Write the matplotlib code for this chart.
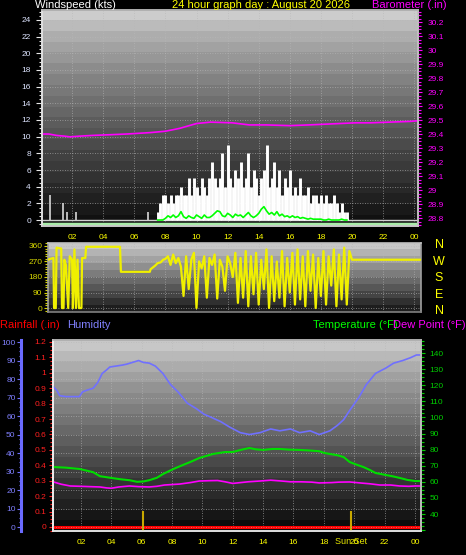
import numpy as np
import matplotlib
matplotlib.use('Agg')
import matplotlib.pyplot as plt
import matplotlib.transforms as mtransforms
from matplotlib.ticker import MultipleLocator, FuncFormatter

plt.rcParams['font.family'] = ['Liberation Sans', 'DejaVu Sans']

# ---------------- data (hours since midnight) ----------------
baro_hours = [0.06, 0.5, 1.0, 1.5, 1.86, 2.5, 3.3, 4.44, 5.5, 7.0, 8.0, 8.9, 10.0, 10.9,
              12.3, 13.4, 14.5, 16.0, 17.2, 18.2, 19.2, 20.2, 21.2, 22.4, 23.7, 24.3]
baro_vals = [29.40, 29.40, 29.39, 29.385, 29.38, 29.385, 29.39, 29.395, 29.40, 29.41, 29.42,
             29.44, 29.475, 29.485, 29.48, 29.465, 29.465, 29.46, 29.465, 29.47, 29.475,
             29.48, 29.48, 29.485, 29.49, 29.495]

# isolated gusts overnight
spike_hours = [0.58, 1.41, 1.67, 2.25, 6.9]
spike_vals = [3, 2, 1, 1, 1]

# gusts / average wind every 10 minutes from 07:30
gust_vals = [1, 2, 3,
             3, 2, 3, 2, 3, 3,
             4, 3, 3, 5, 3, 5,
             4, 3, 5, 4, 3, 5,
             7, 5, 4, 5, 8, 4,
             9, 5, 4, 6, 5, 7,
             4, 5, 8, 4, 6, 5,
             3, 5, 6, 9, 4, 5,
             7, 4, 6, 3, 5, 4,
             6, 3, 4, 3, 5, 3,
             3, 4, 2, 3, 3, 2,
             3, 2, 3, 2, 2, 3,
             2, 1, 2, 1, 1]
avg_vals = [0, 0, 0,
            0.2, 0.5, 0.3, 0.6, 0.3, 0.5,
            1.0, 0.4, 0.2, 0.5, 0.3, 0.2,
            0.6, 0.4, 0.2, 0.6, 0.3, 0.3,
            0.5, 0.8, 1.1, 1.0, 0.5, 0.4,
            0.8, 0.6, 0.3, 0.7, 0.5, 0.6,
            0.3, 0.6, 0.9, 0.5, 0.3, 0.5,
            0.8, 1.3, 1.6, 1.1, 0.7, 0.9,
            0.6, 1.0, 0.5, 0.7, 0.4, 0.5,
            0.3, 0.5, 0.3, 0.4, 0.2, 0.3,
            0.2, 0.1, 0.2, 0.1, 0.1, 0.1,
            0.1, 0, 0, 0.1, 0, 0,
            0, 0, 0.1, 0, 0]
wind_hours = 7.5 + np.arange(len(gust_vals)) / 6.0

# wind direction
dir_hours_early = [0.45, 0.6, 0.8, 0.84, 0.95, 1.0, 1.3, 1.35, 1.45, 1.5, 1.6, 1.75, 1.85,
                   2.0, 2.05, 2.15, 2.25, 2.35, 2.44, 2.6, 2.64, 2.85, 2.9, 5.08, 5.14,
                   7.0, 7.05, 7.33, 7.5, 7.7, 7.85]
dir_vals_early = [280, 285, 290, 0, 0, 350, 345, 0, 0, 280, 250, 0, 300,
                  280, 0, 340, 0, 280, 0, 0, 290, 290, 355, 355, 210,
                  210, 225, 245, 260, 265, 280]
dir_vals_day = [285, 300, 250, 310, 260, 290,
                240, 70, 300, 110, 280, 320,
                0, 270, 230, 300, 60, 290,
                250, 310, 55, 280, 240, 100,
                300, 260, 180, 320, 30, 290,
                60, 330, 10, 300, 80, 320,
                20, 280, 110, 340, 0, 300,
                40, 270, 60, 330, 10, 290,
                90, 320, 20, 340, 50, 300,
                10, 330, 100, 310, 0, 290,
                70, 330, 20, 300, 130, 340,
                10, 310, 50, 350, 20, 330,
                280]
dir_hours_day = 8.0 + np.arange(len(dir_vals_day)) / 6.0
dir_hours_late = [24.5]
dir_vals_late = [280]

# humidity (%), temperature and dew point (F), rain (in)
hum_hours = [0.16, 0.4, 0.6, 1.0, 1.5, 1.9, 2.1, 2.4, 2.8, 3.1, 3.4, 3.7, 3.9, 4.3, 4.7,
             5.0, 5.4, 5.8, 6.1, 6.5, 6.9, 7.4, 7.9, 8.4, 8.7, 9.0, 9.6, 10.1, 10.5,
             11.2, 11.8, 12.5, 13.1, 13.8, 14.5, 15.1, 15.8, 16.4, 17.1, 17.7, 18.4,
             18.9, 19.3, 19.7, 20.3, 20.8, 21.4, 22.1, 22.6, 23.2, 23.7, 24.1, 24.4]
hum_vals = [76, 74, 71, 70.5, 70.5, 70.5, 73, 74, 75, 78, 83, 85, 86.5, 87, 87.5,
            88, 89, 90, 89, 88.6, 87, 83, 77, 73, 70, 67, 64, 61, 59.6,
            57, 54, 51, 50, 51, 53, 52, 53, 51, 52, 50, 52,
            55, 58, 63, 70, 77, 83, 86, 88.6, 90, 91.5, 93, 93]
temp_hours = [0.16, 1.0, 1.9, 2.8, 3.25, 4.0, 4.6, 5.2, 5.7, 6.1, 6.5, 7.0, 7.4, 8.1, 8.6,
              9.2, 9.8, 10.7, 11.5, 12.0, 12.6, 13.1, 13.5, 14.0, 14.6, 15.1, 15.7, 16.4,
              17.0, 17.7, 18.0, 18.4, 18.9, 19.3, 19.7, 20.2, 20.6, 21.0, 21.4, 22.1,
              22.5, 23.0, 23.5, 24.0, 24.4]
temp_vals = [69.2, 68.8, 68, 66, 63.5, 62.4, 61.6, 61, 60, 60.2, 61, 62.5, 64.8, 68, 70,
             72.3, 74.8, 77.3, 78.5, 78.5, 80, 81, 80.2, 79.8, 80.4, 80.4, 80, 79.8,
             79.5, 79, 78, 77.3, 76.5, 75.4, 72.3, 70.5, 69.2, 67.5, 65.5, 64.2,
             63.5, 62.4, 61.2, 60.5, 60.5]
dew_hours = [0.16, 0.7, 1.3, 2.0, 2.6, 3.25, 3.7, 4.0, 4.5, 5.2, 5.8, 6.5, 7.0, 7.5, 8.5,
             9.2, 9.8, 10.5, 11.0, 11.5, 12.0, 12.5, 13.0, 13.8, 14.5, 15.2, 15.8, 16.5,
             17.2, 17.7, 18.5, 19.0, 19.7, 20.5, 21.0, 21.7, 22.4, 23.0, 23.6, 24.0, 24.4]
dew_vals = [60, 58.5, 57.4, 57.2, 57, 56.8, 56.2, 56, 56.8, 57.4, 57, 56.8, 57.2, 58, 58.6,
            59.5, 60.5, 60.7, 60.8, 60, 59, 59.5, 60, 60.5, 61, 60.5, 60, 60,
            59.8, 59.3, 59.5, 59.8, 59.9, 59.2, 58.8, 58, 58, 57.4, 57.2, 57.4, 57.4]
rain_hours = [0.16, 24.4]
rain_vals = [0, 0]
sun_times = [6.09, 19.78]

hour_ticks = list(range(2, 25, 2))
hour_labels = ['%02d' % (h % 24) for h in hour_ticks]

# ---------------- figure ----------------
W, H = 466, 555
fig = plt.figure(figsize=(W / 100, H / 100), dpi=100, facecolor='black')


def rect(left, top, right, bottom):
    return [left / W, 1 - bottom / H, (right - left) / W, (bottom - top) / H]


def shade(ax, top, bottom, n=18, power=1.0):
    t = np.linspace(0, 1, n) ** power
    g = (top + (bottom - top) * t).reshape(-1, 1)
    ax.imshow(g, extent=[0, 1, 0, 1], transform=ax.transAxes, cmap='gray',
              vmin=0, vmax=1, aspect='auto', interpolation='nearest', zorder=0)


def frame(ax, left='#e0e0e0', bottom='#c8c8c8', top='#b0b0b0', right='#c0c0c0'):
    for k, c in zip(['left', 'bottom', 'top', 'right'], [left, bottom, top, right]):
        ax.spines[k].set_color(c)
        ax.spines[k].set_linewidth(1.2)


def fig_text(x, y, s, color, size=8, ha='left'):
    fig.text(x / W, 1 - y / H, s, color=color, fontsize=size, ha=ha, va='center')


gfmt = FuncFormatter(lambda v, p: '%g' % round(v, 2))
grid_kw = dict(color='#b8b8b8', linestyle=(0, (1, 2)), linewidth=0.6, alpha=0.8)

# ---- panel 1 : wind speed + barometer ----
ax1 = fig.add_axes(rect(42, 10, 418, 226))
shade(ax1, 0.80, 0.07, n=20, power=0.8)
ax1.vlines(spike_hours, 0, spike_vals, color='#d8d8d8', lw=1.2, zorder=3)
ax1.vlines(wind_hours, 0, gust_vals, color='white', lw=2.1, zorder=3)
ax1.plot(wind_hours, avg_vals, color='#00ff00', lw=1.2, zorder=4)
ax1.axhline(0, color='#d0d0d0', lw=1, zorder=2)
ax1.axhline(-0.48, color='#a8eca8', lw=2.5, zorder=2)
ax1.set_xlim(0.064, 24.24)
ax1.set_ylim(-0.72, 25.2)
ax1.set_xticks(hour_ticks)
ax1.set_xticklabels(hour_labels)
ax1.yaxis.set_major_locator(MultipleLocator(2))
ax1.yaxis.set_minor_locator(MultipleLocator(0.5))
ax1.grid(True, which='major', **grid_kw)
ax1.tick_params(axis='x', colors='#ffff00', labelsize=6, length=0, pad=6)
ax1.tick_params(axis='y', which='both', colors='#e8e8e8', labelcolor='#dde4ff',
                labelsize=6, width=0.8, pad=4)
ax1.tick_params(axis='y', which='major', length=4)
ax1.tick_params(axis='y', which='minor', length=2.5)
frame(ax1)

ax1b = ax1.twinx()
ax1b.plot(baro_hours, baro_vals, color='#ff00ff', lw=1.2)
ax1b.set_ylim(28.743, 30.286)
ax1b.yaxis.set_major_locator(MultipleLocator(0.1))
ax1b.yaxis.set_minor_locator(MultipleLocator(0.025))
ax1b.yaxis.set_major_formatter(gfmt)
ax1b.tick_params(axis='y', which='both', colors='#ff00ff', labelsize=6, width=0.8, pad=4)
ax1b.tick_params(axis='y', which='major', length=3)
ax1b.tick_params(axis='y', which='minor', length=2)
frame(ax1b)

fig_text(35, 5, 'Windspeed (kts)', 'white')
fig_text(172, 5, '24 hour graph day : August 20 2026', '#ffff00')
fig_text(372, 5, 'Barometer (.in)', '#ff00ff')

# ---- panel 2 : wind direction ----
ax2 = fig.add_axes(rect(48, 243, 421, 312))
shade(ax2, 0.78, 0.12, n=10)
dir_h = list(dir_hours_early) + list(dir_hours_day) + dir_hours_late
dir_v = list(dir_vals_early) + list(dir_vals_day) + dir_vals_late
ax2.plot(dir_h, dir_v, color='#f0f000', lw=1.6, zorder=3)
ax2.set_xlim(0.45, 24.44)
ax2.set_ylim(-23, 377)
ax2.set_xticks(hour_ticks)
ax2.set_xticklabels([])
ax2.set_yticks([0, 90, 180, 270, 360])
ax2.yaxis.set_minor_locator(MultipleLocator(15))
ax2.grid(True, which='major', **grid_kw)
ax2.tick_params(axis='x', length=0)
ax2.tick_params(axis='y', which='both', colors='#d8d800', labelsize=6, width=0.8, pad=1)
ax2.tick_params(axis='y', which='major', length=3)
ax2.tick_params(axis='y', which='minor', length=2)
frame(ax2, left='#a0a0a0', bottom='#808080', top='#c0c0c0', right='#a0a0a0')
for lab, y in zip(['N', 'W', 'S', 'E', 'N'], [245, 262, 278, 295, 311]):
    fig_text(439, y, lab, '#ffff00', size=9, ha='center')

# ---- panel 3 : rain, humidity, temperature, dew point ----
ax3 = fig.add_axes(rect(53, 340, 421, 531))
shade(ax3, 0.78, 0.05, n=18, power=0.9)
ax3.plot(rain_hours, rain_vals, color='#ff0000', lw=2.2, zorder=3)
sun_tr = mtransforms.blended_transform_factory(ax3.transData, ax3.transAxes)
for st in sun_times:
    ax3.plot([st, st], [0, 0.1], transform=sun_tr, color='#c8a800', lw=1.5, zorder=4)
ax3.text(sun_times[1], -0.055, 'Sun Set', transform=sun_tr, color='#e8e800',
         fontsize=6.5, ha='center', va='center')
ax3.set_xlim(0.16, 24.4)
ax3.set_ylim(-0.026, 1.2127)
ax3.set_xticks(hour_ticks)
ax3.set_xticklabels(hour_labels)
ax3.yaxis.set_major_locator(MultipleLocator(0.1))
ax3.yaxis.set_minor_locator(MultipleLocator(0.025))
ax3.yaxis.set_major_formatter(gfmt)
ax3.grid(True, axis='x', **grid_kw)
ax3.tick_params(axis='x', colors='#ffff00', labelsize=6, length=0, pad=6)
ax3.tick_params(axis='y', which='both', colors='#ff2020', labelsize=6, width=0.8, pad=2)
ax3.tick_params(axis='y', which='major', length=3)
ax3.tick_params(axis='y', which='minor', length=2)
frame(ax3, left='#f0f0f0', bottom='#e0e0e0', top='#b0b0b0', right='#c0c0c0')

ax3h = ax3.twinx()
ax3h.plot(hum_hours, hum_vals, color='#7070ff', lw=1.2)
ax3h.set_ylim(-2.16, 101.1)
ax3h.yaxis.tick_left()
ax3h.spines['left'].set_position(('outward', 23))
ax3h.spines['left'].set_visible(True)
ax3h.spines['left'].set_color('#6a6aff')
ax3h.spines['left'].set_linewidth(2.2)
for k in ['right', 'top', 'bottom']:
    ax3h.spines[k].set_visible(False)
ax3h.yaxis.set_major_locator(MultipleLocator(10))
ax3h.yaxis.set_minor_locator(MultipleLocator(2.5))
ax3h.grid(True, axis='y', **grid_kw)
ax3h.tick_params(axis='y', which='both', colors='#7070ff', labelcolor='#8080ff',
                 labelsize=6, width=0.8, pad=1)
ax3h.tick_params(axis='y', which='major', length=3)
ax3h.tick_params(axis='y', which='minor', length=1.5)

ax3t = ax3.twinx()
ax3t.plot(temp_hours, temp_vals, color='#00dd00', lw=1.5)
ax3t.plot(dew_hours, dew_vals, color='#ff00ff', lw=1.2)
ax3t.set_ylim(29.44, 148.1)
ax3t.yaxis.set_major_locator(MultipleLocator(10))
ax3t.yaxis.set_minor_locator(MultipleLocator(2.5))
ax3t.yaxis.set_major_formatter(FuncFormatter(lambda v, p: '%d' % v if v >= 40 else ''))
ax3t.tick_params(axis='y', which='both', colors='#00cc00', labelsize=6, width=0.8, pad=3)
ax3t.tick_params(axis='y', which='major', length=3)
ax3t.tick_params(axis='y', which='minor', length=2)
frame(ax3t, left='#f0f0f0', bottom='#e0e0e0', top='#b0b0b0', right='#c0c0c0')

fig_text(0, 325, 'Rainfall (.in)', '#ff0000')
fig_text(67, 325, 'Humidity', '#8080ff')
fig_text(313, 325, 'Temperature (\u00b0F)', '#00ff00')
fig_text(393, 325, 'Dew Point (\u00b0F)', '#ff00ff')

fig.savefig('out.png', dpi=100, facecolor='black')
